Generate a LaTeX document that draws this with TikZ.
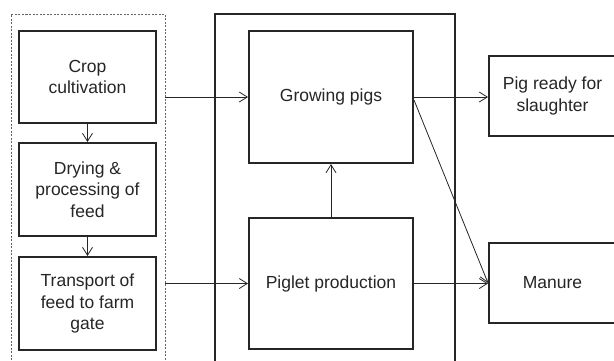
\documentclass[tikz,border=0pt]{standalone}
\usepackage{fontspec}
\setmainfont{Liberation Sans}
\usetikzlibrary{arrows.meta}
\begin{document}
\begin{tikzpicture}[x=1pt,y=-1pt,
  every node/.style={font=\fontsize{17.5}{21.5}\selectfont, text=black!85},
  box/.style={draw=black!85, line width=2pt, inner sep=0pt, align=center},
  label/.style={inner sep=0pt, align=center},
  frame/.style={draw=black!85, line width=2pt, inner sep=0pt},
  dframe/.style={draw=black!60, line width=0.8pt, dash pattern=on 2pt off 1.5pt, inner sep=0pt},
  conn/.style={draw=black!85, line width=0.8pt, -{Straight Barb[length=8pt,width=10pt]}}]
\useasboundingbox (0,0) rectangle (614,360);
\clip (0,0) rectangle (614,360);
\fill[white] (0,0) rectangle (614,360);
% frames
\node[dframe, minimum width=154pt, minimum height=356pt] (feed) at (88,192) {};
\node[frame, minimum width=240pt, minimum height=356pt] (farm) at (335,192) {};
% boxes
\node[box, minimum width=137pt, minimum height=92pt] (crop) at (87.5,77) {Crop\\cultivation};
\node[box, minimum width=137pt, minimum height=93pt] (dry) at (87.5,189.5) {Drying \&\\processing of\\feed};
\node[box, minimum width=137pt, minimum height=93pt] (trans) at (87.5,303.5) {Transport of\\feed to farm\\gate};
\node[box, minimum width=164pt, minimum height=132pt] (grow) at (331,97) {Growing pigs};
\node[box, minimum width=164pt, minimum height=131pt] (piglet) at (331,283.5) {Piglet production};
\node[box, minimum width=150pt, minimum height=80pt] (pig) at (564,96) {};
\node[label] (pigtext) at (552.5,96) {Pig ready for\\slaughter};
\node[box, minimum width=150pt, minimum height=80pt] (man) at (564,283) {};
\node[label] (mantext) at (552.5,283) {Manure};
% connectors
\draw[conn] (crop) -- (dry);
\draw[conn] (dry) -- (trans);
\draw[conn] (feed.east |- grow.west) -- (grow.west);
\draw[conn] (feed.east |- piglet.west) -- (piglet.west);
\draw[conn] (piglet) -- (grow);
\draw[conn] (grow.east) -- (pig.west |- grow.east);
\draw[conn] (piglet.east) -- (man.west |- piglet.east);
\draw[conn] ([yshift=-3pt]grow.east) -- (man.west);
\end{tikzpicture}
\end{document}
